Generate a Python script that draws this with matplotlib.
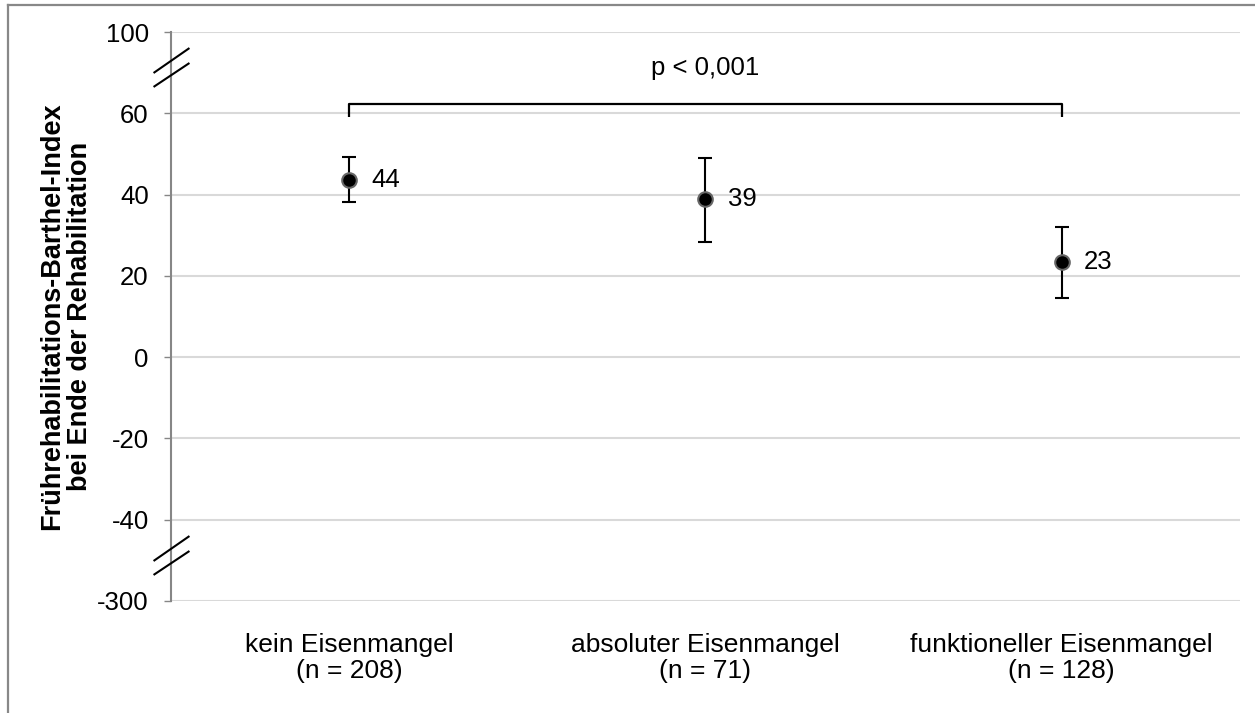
import matplotlib
matplotlib.use('Agg')
import matplotlib.pyplot as plt
import numpy as np
from matplotlib.path import Path
from matplotlib.lines import Line2D

plt.rcParams['font.family'] = ['Liberation Sans', 'DejaVu Sans']

# data
groups = ['kein Eisenmangel\n(n = 208)',
          'absoluter Eisenmangel\n(n = 71)',
          'funktioneller Eisenmangel\n(n = 128)']
means = [43.7, 38.8, 23.3]
ci_low = [38.2, 28.4, 14.6]
ci_high = [49.2, 49.1, 31.9]
value_labels = ['44', '39', '23']
yticks = [-300, -40, -20, 0, 20, 40, 60, 100]
p_text = 'p < 0,001'
bracket_top = 64.5
bracket_foot = 59
break_marks = [83, -153]


# broken axis: 60..100 and -300..-40 are squeezed
def forward(y):
    y = np.asarray(y, dtype=float)
    return np.where(y > 60, 60 + (y - 60) / 2,
                    np.where(y < -40, -40 + (y + 40) * 20 / 260, y))


def inverse(t):
    t = np.asarray(t, dtype=float)
    return np.where(t > 60, 60 + (t - 60) * 2,
                    np.where(t < -40, -40 + (t + 40) * 13, t))


fig = plt.figure(figsize=(12.55, 7.13), dpi=100)
ax = fig.add_axes([0.1363, 0.1571, 0.988 - 0.1363, 0.9551 - 0.1571])
ax.set_yscale('function', functions=(forward, inverse))

x = np.arange(len(groups))
means_arr = np.array(means)
yerr = [means_arr - np.array(ci_low), np.array(ci_high) - means_arr]
ax.errorbar(x, means, yerr=yerr, fmt='o', color='black', ecolor='black',
            elinewidth=1.5, capsize=5, capthick=1.5, markersize=10.5,
            markerfacecolor='black', markeredgecolor='#666666',
            markeredgewidth=1.5, zorder=3)

for xi, m, lab in zip(x, means, value_labels):
    ax.annotate(lab, xy=(xi, m), xytext=(16, 0), textcoords='offset points',
                ha='left', va='center', fontsize=18.5)

# significance bracket
ax.plot([x[0], x[0], x[-1], x[-1]],
        [bracket_foot, bracket_top, bracket_top, bracket_foot],
        color='black', lw=1.6, solid_capstyle='butt', zorder=3)
ax.annotate(p_text, xy=((x[0] + x[-1]) / 2, bracket_top), xytext=(0, 26),
            textcoords='offset points', ha='center', va='center', fontsize=18.5)

ax.set_xlim(-0.5, len(groups) - 0.5)
ax.set_ylim(-300, 100)
ax.set_yticks(yticks)
ax.set_yticklabels([str(v) for v in yticks])
ax.set_xticks(x)
ax.set_xticklabels(groups, fontsize=19, linespacing=1.1)
ax.tick_params(axis='x', length=0, pad=23)
ax.tick_params(axis='y', length=5, width=1, color='#868686', labelsize=18.5, pad=11)

ax.grid(axis='y', color='#d9d9d9', lw=1.5)
ax.set_axisbelow(True)
for s in ['top', 'right', 'bottom']:
    ax.spines[s].set_visible(False)
ax.spines['left'].set_color('#868686')
ax.spines['left'].set_linewidth(1.5)

ax.set_ylabel('Frührehabilitations-Barthel-Index\nbei Ende der Rehabilitation',
              fontsize=19.5, fontweight='bold', labelpad=3, linespacing=1.1)

# break marks on the y axis
brk = Path([(-18, -5.5), (18, 19.5), (-18, -19.5), (18, 4.5)],
           [Path.MOVETO, Path.LINETO, Path.MOVETO, Path.LINETO])
ax.plot([-0.5] * len(break_marks), break_marks, linestyle='none', marker=brk,
        markersize=28, markerfacecolor='none', markeredgecolor='black',
        markeredgewidth=1.5, clip_on=False, zorder=4)

# gray chart frame (top and left edges visible)
fx0, fy0 = 8 / 1255, 1 - 5 / 713
fig.add_artist(Line2D([fx0, 1], [fy0, fy0], color='#888888', lw=1.6))
fig.add_artist(Line2D([fx0, fx0], [fy0, 0], color='#888888', lw=1.6))

fig.savefig('out.png', dpi=100)
